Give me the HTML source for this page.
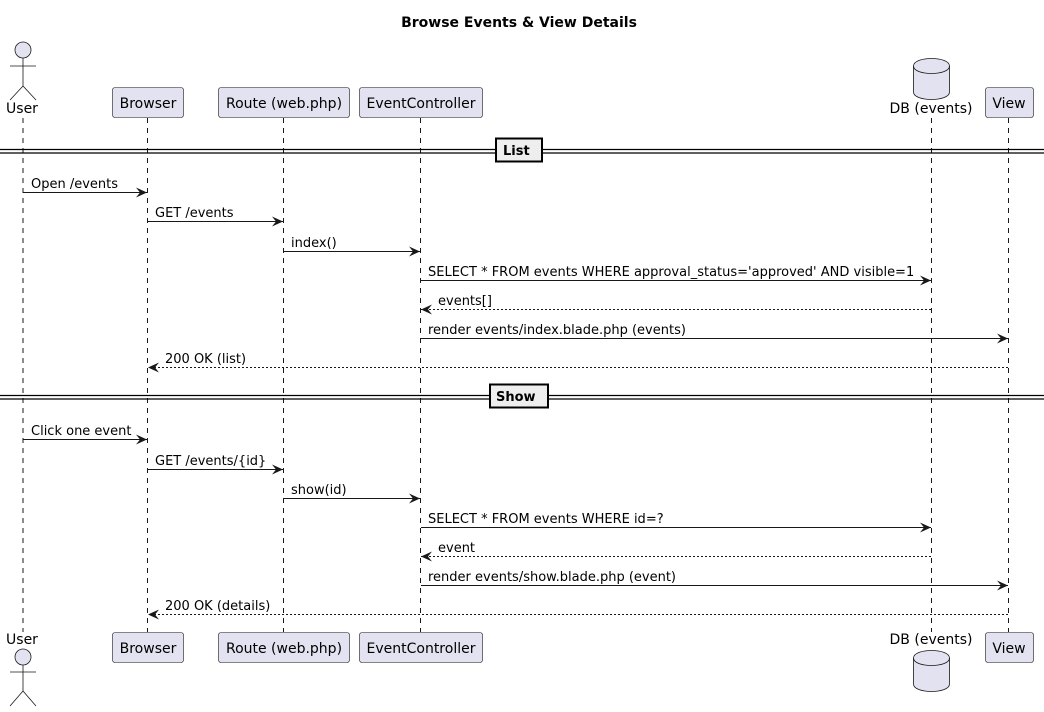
<!DOCTYPE html>
<html><head><meta charset="utf-8"><style>
html,body{margin:0;padding:0;background:#fff;}
svg{display:block;font-family:"DejaVu Sans","Liberation Sans",sans-serif;}
</style></head><body>
<svg width="1044" height="712" viewBox="0 0 1044 712" xmlns="http://www.w3.org/2000/svg">
<defs>
<marker id="a" markerWidth="12" markerHeight="10" refX="11" refY="5" orient="auto" markerUnits="userSpaceOnUse">
<path d="M0,0 L11,5 L0,10 L4,5 Z" fill="#181818"/>
</marker>
</defs>
<text x="519" y="27" font-size="14" font-weight="bold" text-anchor="middle" fill="#000">Browse Events &amp; View Details</text>
<g stroke="#181818" stroke-width="1" stroke-dasharray="5,5" fill="none">
<line x1="23" y1="118" x2="23" y2="632"/>
<line x1="147.5" y1="118" x2="147.5" y2="632"/>
<line x1="283.5" y1="118" x2="283.5" y2="632"/>
<line x1="420.5" y1="118" x2="420.5" y2="632"/>
<line x1="931.5" y1="118" x2="931.5" y2="632"/>
<line x1="1008.5" y1="118" x2="1008.5" y2="632"/>
</g>
<g fill="#E2E2F0" stroke="#181818" stroke-width="0.6">
<rect x="112.5" y="87.5" width="71" height="30" rx="2.5"/>
<rect x="218.5" y="87.5" width="131" height="30" rx="2.5"/>
<rect x="359.5" y="87.5" width="123" height="30" rx="2.5"/>
<rect x="985.5" y="87.5" width="48" height="30" rx="2.5"/>
<rect x="112.5" y="632.5" width="71" height="30" rx="2.5"/>
<rect x="218.5" y="632.5" width="131" height="30" rx="2.5"/>
<rect x="359.5" y="632.5" width="123" height="30" rx="2.5"/>
<rect x="985.5" y="632.5" width="48" height="30" rx="2.5"/>
</g>
<g font-size="14" fill="#000" text-anchor="middle">
<text x="148" y="108">Browser</text>
<text x="284" y="108">Route (web.php)</text>
<text x="421" y="108">EventController</text>
<text x="1009" y="108">View</text>
<text x="148" y="653">Browser</text>
<text x="284" y="653">Route (web.php)</text>
<text x="421" y="653">EventController</text>
<text x="1009" y="653">View</text>
<text x="22" y="113">User</text>
<text x="22" y="644">User</text>
<text x="931" y="113">DB (events)</text>
<text x="931" y="644">DB (events)</text>
</g>
<g fill="#E2E2F0" stroke="#181818" stroke-width="0.8">
<circle cx="23" cy="50" r="8"/>
<path d="M23,58 V86 M10,66 H36 M23,86 L10,100 M23,86 L36,100" fill="none"/>
<circle cx="23" cy="657" r="8"/>
<path d="M23,665 V691 M10,672 H36 M23,691 L10,706 M23,691 L36,706" fill="none"/>
</g>
<g fill="#E2E2F0" stroke="#181818" stroke-width="0.8">
<path d="M913.5,66 C913.5,56 949.5,56 949.5,66 V92 C949.5,102 913.5,102 913.5,92 Z"/>
<path d="M913.5,66 C913.5,76 949.5,76 949.5,66" fill="none"/>
<path d="M913.5,658 C913.5,648 949.5,648 949.5,658 V684 C949.5,694 913.5,694 913.5,684 Z"/>
<path d="M913.5,658 C913.5,668 949.5,668 949.5,658" fill="none"/>
</g>
<g stroke="#000" stroke-width="1.2">
<line x1="0" y1="149.5" x2="1044" y2="149.5"/>
<line x1="0" y1="153" x2="1044" y2="153"/>
<line x1="0" y1="395.5" x2="1044" y2="395.5"/>
<line x1="0" y1="399" x2="1044" y2="399"/>
</g>
<rect x="496" y="138.5" width="46" height="23" fill="#EEEEEE" stroke="#000" stroke-width="2"/>
<text x="503" y="155" font-size="13" font-weight="bold">List</text>
<rect x="490" y="384.5" width="58" height="23" fill="#EEEEEE" stroke="#000" stroke-width="2"/>
<text x="496" y="401" font-size="13" font-weight="bold">Show</text>
<g stroke="#181818" stroke-width="1" fill="none" marker-end="url(#a)">
<line x1="23" y1="192.5" x2="147" y2="192.5"/>
<line x1="148" y1="221.5" x2="283" y2="221.5"/>
<line x1="284" y1="251.5" x2="420" y2="251.5"/>
<line x1="421" y1="280.5" x2="931" y2="280.5"/>
<line x1="931" y1="309.5" x2="421" y2="309.5" stroke-dasharray="2,2"/>
<line x1="421" y1="338.5" x2="1008" y2="338.5"/>
<line x1="1008" y1="367.5" x2="148" y2="367.5" stroke-dasharray="2,2"/>
<line x1="23" y1="439.5" x2="147" y2="439.5"/>
<line x1="148" y1="469.5" x2="283" y2="469.5"/>
<line x1="284" y1="498.5" x2="420" y2="498.5"/>
<line x1="421" y1="527.5" x2="931" y2="527.5"/>
<line x1="931" y1="556.5" x2="421" y2="556.5" stroke-dasharray="2,2"/>
<line x1="421" y1="585.5" x2="1008" y2="585.5"/>
<line x1="1008" y1="614.5" x2="148" y2="614.5" stroke-dasharray="2,2"/>
</g>
<g font-size="13" fill="#000">
<text x="31" y="188">Open /events</text>
<text x="155" y="217">GET /events</text>
<text x="291" y="247">index()</text>
<text x="428" y="276">SELECT * FROM events WHERE approval_status='approved' AND visible=1</text>
<text x="438" y="305">events[]</text>
<text x="428" y="334">render events/index.blade.php (events)</text>
<text x="165" y="363">200 OK (list)</text>
<text x="31" y="435">Click one event</text>
<text x="155" y="465">GET /events/{id}</text>
<text x="291" y="494">show(id)</text>
<text x="428" y="523">SELECT * FROM events WHERE id=?</text>
<text x="438" y="552">event</text>
<text x="428" y="581">render events/show.blade.php (event)</text>
<text x="165" y="610">200 OK (details)</text>
</g>
</svg>
</body></html>
